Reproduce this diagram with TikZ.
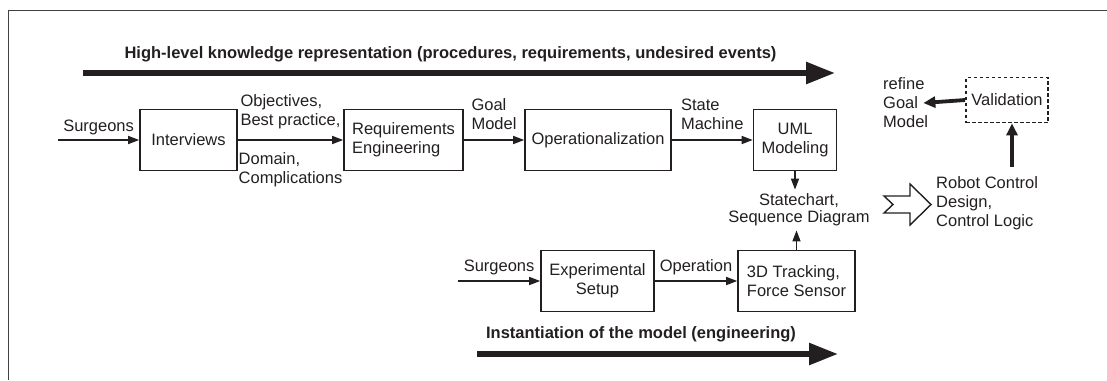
\documentclass[tikz,border=0pt]{standalone}
\usepackage{fontspec}
\setmainfont{Liberation Sans}
\usetikzlibrary{arrows.meta}
\definecolor{ink}{HTML}{231F20}
\tikzset{
        every node/.style={font=\fontsize{16.5}{19}\selectfont, text=ink},
        box/.style={draw=ink, line width=1.6pt, minimum height=61pt, inner sep=2pt},
        lbl/.style={align=left, inner sep=0pt},
        ttl/.style={font=\fontsize{16.5}{19}\selectfont\bfseries},
        thin/.style={draw=ink, line width=1.5pt, -{Triangle[length=11pt,width=8pt]}},
        thickarr/.style={draw=ink, line width=3.8pt, -{Triangle[length=12pt,width=11pt]}},
        bigarr/.style={draw=ink, line width=5.5pt, -{Triangle[length=29pt,width=21pt]}}
}

\begin{document}
\begin{tikzpicture}[x=1pt,y=1pt]
        \useasboundingbox (0,0) rectangle (1107,-380);
        \draw[line width=1.7pt, draw=black!75] (8.5,-380) -- (8.5,-10.5) -- (1107,-10.5);

        \node[ttl] (hlttl) at (450.5,-54) {High-level knowledge representation (procedures, requirements, undesired events)};
        \coordinate (hlfrom) at (83,-73);
        \coordinate (hlto) at (835,-73);
        \draw[bigarr] (hlfrom) -- (hlto);

        \node[box, minimum width=97pt] (interv) at (188.5,-140) {Interviews};
        \node[box, minimum width=119pt, align=left] (reqeng) at (403.5,-140) {Requirements\\Engineering};
        \node[box, minimum width=146pt] (oper) at (598,-140) {Operationalization};
        \node[box, minimum width=83pt, align=center] (uml) at (795,-140) {UML\\Modeling};
        \node[align=center, inner sep=4pt, font=\fontsize{16.5}{17}\selectfont] (sdiag) at (799,-210) {Statechart,\\Sequence Diagram};

        \coordinate (srg1) at (58,-140);
        \draw[thin] (srg1) -- node[lbl, above=4.5pt] {Surgeons} (interv);
        \draw[thin] (interv) -- node[lbl, above=10pt] {Objectives,\\Best practice,} node[lbl, below=12pt] {Domain,\\Complications} (reqeng);
        \draw[thin] (reqeng) -- node[lbl, above=10pt] {Goal\\Model} (oper);
        \draw[thin] (oper) -- node[lbl, above=10pt] {State\\Machine} (uml);
        \draw[thin] (uml.south) -- (uml.south |- sdiag.north);

        \node[box, minimum width=113pt, align=center] (expset) at (597.5,-281) {Experimental\\Setup};
        \node[box, minimum width=117pt, align=left] (track) at (796.5,-281) {3D Tracking,\\Force Sensor};
        \coordinate (srg2) at (458,-281);
        \draw[thin] (srg2) -- node[lbl, above=5pt] {Surgeons} (expset);
        \draw[thin] (expset) -- node[lbl, above=5pt] {Operation} (track);
        \draw[thin] (track.north) -- (track.north |- sdiag.south);

        \node[ttl] (instttl) at (641,-334) {Instantiation of the model (engineering)};
        \coordinate (infrom) at (477,-354);
        \coordinate (into) at (838,-354);
        \draw[bigarr] (infrom) -- (into);

        \coordinate (fat) at (884,-204.5);
        \draw[draw=ink, line width=1.4pt, line join=miter] (fat) ++(0,8.5) -- ++(26,0) -- ++(0,12) -- ++(21,-20.5) -- ++(-21,-20.5) -- ++(0,12) -- ++(-26,0) -- ++(9,8.5) -- cycle;
        \node[lbl, anchor=west] (robot) at (936,-203) {Robot Control\\Design,\\Control Logic};

        \node[box, dash pattern=on 3.5pt off 2.5pt, line width=1.8pt, minimum width=82pt, minimum height=45pt] (valid) at (1007,-100) {Validation};
        \node[lbl, anchor=west] (refine) at (883,-103) {refine\\Goal\\Model};
        \draw[thickarr] (robot.north -| valid.south) ++(5,9) -- ([xshift=5pt]valid.south);
        \draw[thickarr] (valid.west) -- ([xshift=-5pt]refine.east);
\end{tikzpicture}
\end{document}
